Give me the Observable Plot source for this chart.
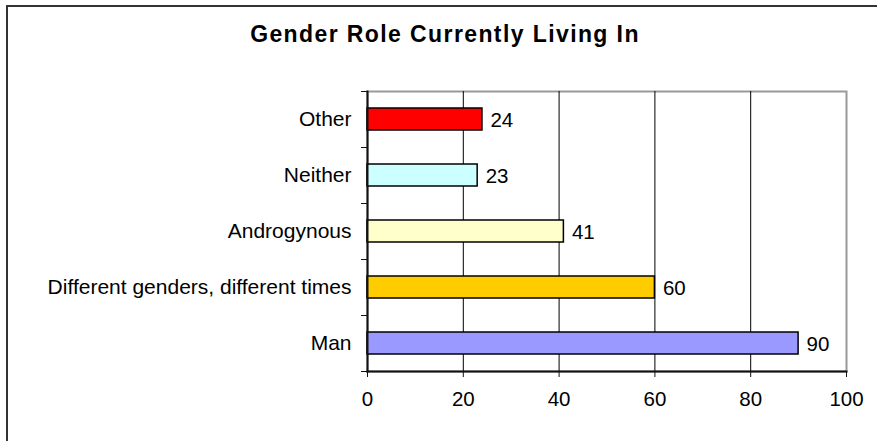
<!DOCTYPE html>
<html>
<head>
<meta charset="utf-8">
<script src="https://cdn.jsdelivr.net/npm/d3@7"></script>
<script src="https://cdn.jsdelivr.net/npm/@observablehq/plot@0.6"></script>
<style>
  html, body { margin: 0; padding: 0; background: #fff; width: 877px; height: 441px; overflow: hidden; }
  #wrap { position: relative; width: 877px; height: 441px; }
  #border { position: absolute; left: 6px; top: 5px; width: 900px; height: 460px; border: 2px solid #333; box-sizing: border-box; }
  #title { position: absolute; left: 0; top: 23px; width: 890px; text-align: center;
           font-family: "Liberation Sans", Arial, sans-serif; font-weight: bold; font-size: 23px;
           line-height: 23px; letter-spacing: 1.4px; color: #000; }
  #chart { position: absolute; left: 0; top: 0; }
</style>
</head>
<body>
<div id="wrap">
  <div id="border"></div>
  <div id="title">Gender Role Currently Living In</div>
  <div id="chart"></div>
</div>
<script>
const categories = ["Other", "Neither", "Androgynous", "Different genders, different times", "Man"];
const values = [24, 23, 41, 60, 90];
const colors = ["#FF0000", "#CCFFFF", "#FFFFCC", "#FFCC00", "#9999FF"];
const xTicks = [0, 20, 40, 60, 80, 100];
const gridTicks = [20, 40, 60, 80];

const data = categories.map((c, i) => ({category: c, value: values[i], color: colors[i]}));

const W = 877, H = 441, mt = 91, mb = 70, ml = 367, mr = 31;
const half = (H - mt - mb) / categories.length / 2;

const chart = Plot.plot({
  width: W, height: H,
  marginTop: mt, marginBottom: mb, marginLeft: ml, marginRight: mr,
  style: {fontFamily: "Liberation Sans, Arial, sans-serif", fontSize: "20px", background: "transparent", color: "#000", overflow: "visible"},
  x: {domain: [0, 100], label: null},
  y: {domain: categories, padding: 0, label: null},
  marks: [
    Plot.frame({stroke: "#999", strokeWidth: 2}),
    Plot.gridX({ticks: gridTicks, stroke: "#000", strokeOpacity: 1, strokeWidth: 1}),
    Plot.barX(data, {x: "value", y: "category", fill: "color", stroke: "#000", strokeWidth: 1.5, insetTop: 17, insetBottom: 17}),
    Plot.text(data, {x: "value", y: "category", text: d => String(d.value), textAnchor: "start", dx: 8, dy: 1, fill: "#000", fontSize: 20.5, letterSpacing: "0.6px"}),
    Plot.frame({anchor: "left", stroke: "#111", strokeWidth: 2}),
    Plot.frame({anchor: "bottom", stroke: "#111", strokeWidth: 2}),
    Plot.axisX({ticks: xTicks, tickSize: 6, tickPadding: 14, stroke: "#111", fontSize: 20.5, letterSpacing: "0.4px", tickFormat: d => String(d), label: null}),
    Plot.axisY({tickSize: 0, tickPadding: 16, fontSize: 21, letterSpacing: "0.45px", label: null}),
    Plot.axisY({tickSize: 6, text: null, dy: half, stroke: "#111", label: null}),
    Plot.axisY({tickSize: 6, text: null, dy: -half, stroke: "#111", label: null})
  ]
});
document.getElementById("chart").appendChild(chart);
</script>
</body>
</html>
